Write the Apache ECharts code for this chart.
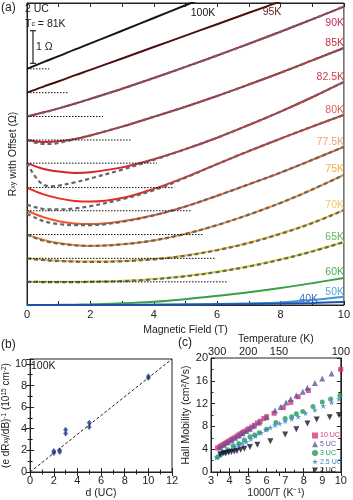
<!DOCTYPE html>
<html><head><meta charset="utf-8">
<script src="https://cdn.jsdelivr.net/npm/echarts@6/dist/echarts.min.js"></script>
<style>html,body{margin:0;padding:0;background:#fff}#c{width:353px;height:500px}</style>
</head><body><div id="c"></div>
<script>
const FONT = "'Liberation Sans', Arial, sans-serif";
// ---------- panel (a) ----------
const fieldB = [0,0.5,1,1.5,2,3,4,5,6,7,8,9,10];
const fitB = [0,0.25,0.5,0.75,1,1.5,2,3,4,5,6,7,8,9,10];
const r100 = [7.24,7.44,7.63,7.83,8.02,8.41,8.80,9.19,9.58,9.97,10.36,10.75,11.14];
const r95  = [6.51,6.69,6.86,7.04,7.21,7.56,7.91,8.26,8.61,8.96,9.31,9.66,10.01];
const r90  = [5.78,5.90,6.03,6.17,6.32,6.63,6.96,7.30,7.65,8.01,8.38,8.76,9.15];
const r85  = [5.06,5.00,5.02,5.09,5.20,5.47,5.77,6.08,6.41,6.76,7.12,7.50,7.88];
const r82  = [4.35,4.18,4.09,4.05,4.07,4.22,4.47,4.78,5.13,5.52,5.93,6.37,6.84];
const r80  = [3.60,3.40,3.27,3.19,3.17,3.28,3.56,3.92,4.32,4.72,5.10,5.47,5.83];
const r77  = [2.89,2.70,2.57,2.50,2.48,2.57,2.75,3.02,3.35,3.70,4.06,4.45,4.85];
const r75  = [2.16,2.00,1.90,1.84,1.81,1.86,1.98,2.18,2.45,2.77,3.13,3.54,3.99];
const r70  = [1.43,1.39,1.36,1.34,1.33,1.35,1.41,1.52,1.69,1.91,2.19,2.52,2.91];
const r65  = [0.71,0.71,0.71,0.71,0.72,0.74,0.80,0.89,1.02,1.19,1.40,1.65,1.93];
const r60  = [0,0,0.005,0.01,0.02,0.05,0.10,0.18,0.28,0.39,0.52,0.67,0.83];
const r50  = [0,0,0,0,0,0.005,0.01,0.02,0.03,0.05,0.08,0.15,0.25];
const r40  = [0,0,0,0,0,0,0.005,0.01,0.02,0.03,0.045,0.065,0.09];
const fit90 = [5.78,5.84,5.90,5.96,6.03,6.17,6.32,6.63,6.96,7.30,7.65,8.01,8.38,8.76,9.15];
const fit85 = [5.06,4.98,4.94,4.94,4.97,5.08,5.20,5.47,5.77,6.08,6.41,6.76,7.12,7.50,7.88];
const fit82 = [4.35,3.95,3.70,3.64,3.66,3.76,3.88,4.15,4.45,4.78,5.13,5.52,5.93,6.37,6.84];
const fit80 = [3.08,3.00,2.95,2.93,2.93,2.96,3.03,3.24,3.52,3.90,4.32,4.72,5.10,5.47,5.83];
const fit77 = [2.80,2.68,2.58,2.52,2.48,2.45,2.45,2.55,2.75,3.02,3.35,3.70,4.06,4.45,4.85];
const fit75 = [2.16,2.06,1.98,1.92,1.88,1.83,1.81,1.86,1.98,2.18,2.45,2.77,3.13,3.54,3.99];
const fit70 = [1.43,1.40,1.38,1.36,1.35,1.33,1.32,1.34,1.40,1.51,1.68,1.90,2.18,2.51,2.91];
const fit65 = [0.71,0.71,0.70,0.70,0.70,0.70,0.71,0.73,0.79,0.88,1.01,1.18,1.39,1.64,1.93];
const baseOffsets = [7.24,6.51,5.78,5.06,4.35,3.60,2.89,2.16,1.43,0.71];
const baseEnds    = [0.7,1.3,2.4,3.3,4.1,4.65,5.2,5.55,5.95,6.35];
const tempLabels = ['100K','95K','90K','85K','82.5K','80K','77.5K','75K','70K','65K','60K','50K','40K'];
// ---------- panel (b) ----------
const thickUC = [2,2,2.5,2.5,3,3,5,5,10,10];
const invSlope = [1.95,1.75,2.0,1.85,3.9,3.55,4.55,4.15,8.85,8.7];
const invErr = [0.15,0.15,0.12,0.12,0.18,0.18,0.15,0.15,0.12,0.12];
const fitLineB = [[0,0],[12,10.45]];
// ---------- panel (c) ----------
const cNames = ['10 UC','5 UC','3 UC','2.5 UC','2 UC'];
const mob10 = [[3.35,4.2],[3.45,4.4],[3.55,4.6],[3.65,4.8],[3.75,5.0],[3.85,5.2],[3.95,5.4],[4.05,5.6],[4.15,5.8],[4.25,6.0],[4.4,6.3],[4.5,6.5],[4.6,6.7],[4.7,6.9],[4.8,7.1],[4.95,7.4],[5.05,7.6],[5.2,7.9],[5.35,8.2],[5.5,8.6],[5.65,8.9],[5.85,9.4],[6.0,9.7],[6.4,10.3],[6.9,11.3],[7.3,12.2],[7.7,13.2],[8.25,14.3],[10.0,18.0]];
const mob5 = [[3.5,4.4],[3.7,4.8],[3.9,5.2],[4.1,5.6],[4.3,6.0],[4.5,6.4],[4.7,6.8],[4.9,7.2],[5.1,7.6],[5.3,8.1],[5.6,8.7],[6.0,9.6],[6.45,10.8],[6.75,11.4],[7.05,12.2],[7.3,12.8],[7.6,13.4],[7.95,14.1],[8.2,14.8],[8.6,15.6],[9.0,16.4],[9.5,17.3]];
const mob3 = [[3.35,2.6],[3.5,3.0],[3.7,3.4],[3.9,3.9],[4.2,4.6],[4.5,5.0],[4.8,5.6],[5.1,6.2],[5.35,6.5],[5.6,6.9],[6.0,7.5],[6.5,8.7],[7.0,9.4],[7.35,9.7],[7.6,10.2],[7.95,10.6],[8.5,11.5],[9.0,12.3],[9.45,12.8],[9.95,13.4]];
const mob25 = [[3.3,2.6],[3.5,3.0],[3.7,3.3],[3.9,3.6],[4.1,4.0],[4.3,4.4],[4.5,4.7],[4.7,5.0],[4.9,5.3],[5.15,5.8],[5.4,6.3],[5.7,6.9],[5.95,7.4],[6.2,7.8],[6.45,8.2],[6.7,8.5],[7.0,8.9],[7.35,9.3],[7.7,9.7],[8.1,10.3],[8.6,10.9],[9.05,11.6],[9.5,12.2],[9.9,12.8]];
const mob2 = [[3.5,3.1],[3.65,3.3],[3.8,3.3],[3.95,3.4],[4.1,3.5],[4.25,3.6],[4.4,3.7],[4.6,3.9],[4.8,4.1],[5.1,4.4],[5.5,4.8],[6.2,5.4],[7.0,6.6],[7.6,7.5],[8.2,8.5],[8.7,9.2],[9.4,9.6],[9.9,10.0]];
const tempTicks = [300,200,150,100];
const tempMinorTicks = [300,250,200,150,125,100];

const pairs = (xs, ys) => xs.map((x,i)=>[x, ys[i]]);
const solidCurves = [r100,r95,r90,r85,r82,r80,r77,r75,r70,r65,r60,r50,r40];
const solidColors = ['#151515','#4a1010','#b3263a','#c4202f','#d8222c','#e42b24','#ea5a2a','#f08b30','#f5bb2c','#d9d22e','#3a9f48','#3a9ad8','#2050a8'];
const fitCurves = [fit90,fit85,fit82,fit80,fit77,fit75,fit70,fit65];
const labelColors = ['#151515','#6a1c1c','#c23050','#c83040','#d23c4c','#e0605c','#f0a070','#f0b23a','#f0c860','#66b35e','#4fa85a','#55a6da','#3a6cc0'];

const series = [];
solidCurves.forEach((v,i)=>{
  series.push({type:'line', xAxisIndex:0, yAxisIndex:0, data:pairs(fieldB,v), smooth:0.35, symbol:'none',
    lineStyle:{color:solidColors[i], width:2}, silent:true, z:2});
});
fitCurves.forEach((v)=>{
  series.push({type:'line', xAxisIndex:0, yAxisIndex:0, data:pairs(fitB,v), smooth:0.35, symbol:'none',
    lineStyle:{color:'#666', width:2.2, type:[4,3]}, silent:true, z:3});
});
baseOffsets.forEach((o,i)=>{
  series.push({type:'line', xAxisIndex:0, yAxisIndex:0, data:[[0,o],[baseEnds[i],o]], symbol:'none',
    lineStyle:{color:'#111', width:1, type:[1.5,1.5]}, silent:true, z:4});
});
// panel b
series.push({type:'line', xAxisIndex:2, yAxisIndex:1, data:fitLineB, symbol:'none',
  lineStyle:{color:'#222', width:1, type:[3,2]}, silent:true});
series.push({type:'custom', xAxisIndex:2, yAxisIndex:1, data:thickUC.map((d,i)=>[d, invSlope[i]-invErr[i], invSlope[i]+invErr[i]]),
  renderItem:(p,api)=>{const a=api.coord([api.value(0),api.value(1)]);const b=api.coord([api.value(0),api.value(2)]);
    return {type:'line', shape:{x1:a[0],y1:a[1],x2:b[0],y2:b[1]}, style:{stroke:'#2f4a9a', lineWidth:1.2}};}, silent:true});
series.push({type:'scatter', xAxisIndex:2, yAxisIndex:1, data:pairs(thickUC, invSlope), symbol:'diamond', symbolSize:[5,6],
  itemStyle:{color:'#2f4a9a'}, silent:true});
// panel c
const star = 'path://M5,0 L6.2,3.6 L10,3.6 L6.9,5.8 L8.1,9.5 L5,7.2 L1.9,9.5 L3.1,5.8 L0,3.6 L3.8,3.6 Z';
const downTri = 'path://M0,0 L10,0 L5,9 Z';
const cData = [mob10, mob5, mob3, mob25, mob2];
const cSymbols = ['rect','triangle','circle',star,downTri];
const cSizes = [5,6,5,6,6];
const cColors = ['#d6357a','#5c5a9c','#1f9a5a','#3a84c4','#15152a'];
cData.forEach((d,i)=>{
  series.push({name:cNames[i], type:'scatter', xAxisIndex:4, yAxisIndex:3, data:d, symbol:cSymbols[i], symbolSize:cSizes[i],
    itemStyle:{color:cColors[i]}, silent:true});
});

const axLine = {show:true, lineStyle:{color:'#222', width:1}};
const tick = {show:true, inside:true, length:4, lineStyle:{color:'#222'}};
const lab = {fontSize:11, color:'#222', fontFamily:FONT};
const nameStyle = {fontSize:10.5, color:'#222', fontFamily:FONT};

const option = {
  animation:false,
  textStyle:{fontFamily:FONT},
  grid:[
    {left:23, right:7, top:3, bottom:195, show:true, borderColor:'#222', borderWidth:1},
    {left:26, right:181, top:359, bottom:28, show:true, borderColor:'#222', borderWidth:1},
    {left:211, right:6, top:358, bottom:28, show:true, borderColor:'#222', borderWidth:1}
  ],
  xAxis:[
    {gridIndex:0, type:'value', min:0, max:10, interval:1, position:'bottom', axisLine:axLine, axisTick:tick,
      axisLabel:Object.assign({margin:4, formatter:v=> (v%2===0? String(v):'')}, lab), splitLine:{show:false},
      name:'Magnetic Field (T)', nameLocation:'middle', nameGap:17, nameTextStyle:nameStyle},
    {gridIndex:0, type:'value', min:0, max:10, interval:1, position:'top', axisLine:axLine, axisTick:tick,
      axisLabel:{show:false}, splitLine:{show:false}},
    {gridIndex:1, type:'value', min:0, max:12, interval:2, position:'bottom', axisLine:axLine, axisTick:tick,
      minorTick:{show:true, splitNumber:2, length:2.5}, axisLabel:Object.assign({margin:3}, lab), splitLine:{show:false},
      name:'d (UC)', nameLocation:'middle', nameGap:16, nameTextStyle:nameStyle},
    {gridIndex:1, type:'value', min:0, max:12, interval:2, position:'top', axisLine:axLine, axisTick:tick,
      minorTick:{show:true, splitNumber:2, length:2.5}, axisLabel:{show:false}, splitLine:{show:false}},
    {gridIndex:2, type:'value', min:3, max:10, interval:1, position:'bottom', axisLine:axLine, axisTick:tick,
      minorTick:{show:true, splitNumber:2, length:2.5}, axisLabel:Object.assign({margin:3}, lab), splitLine:{show:false},
      name:'1000/T (K\u207B\u00B9)', nameLocation:'middle', nameGap:16, nameTextStyle:nameStyle},
    {gridIndex:2, type:'value', min:3, max:10, position:'top', axisLine:axLine,
      axisTick:Object.assign({customValues:tempMinorTicks.map(t=>1000/t)}, tick),
      axisLabel:Object.assign({margin:1, customValues:tempTicks.map(t=>1000/t), formatter:v=>String(Math.round(1000/v))}, lab),
      splitLine:{show:false},
      name:'Temperature (K)', nameLocation:'middle', nameGap:12, nameTextStyle:nameStyle}
  ],
  yAxis:[
    {gridIndex:0, type:'value', min:0, max:9.26, axisLine:axLine, axisTick:{show:false}, axisLabel:{show:false}, splitLine:{show:false},
      name:'R{s|xy} with Offset (\u03A9)', nameLocation:'middle', nameGap:8,
      nameTextStyle:Object.assign({rich:{s:{fontSize:7, fontFamily:FONT, color:'#222'}}}, nameStyle)},
    {gridIndex:1, type:'value', min:0, max:10.45, interval:2, axisLine:axLine, axisTick:tick,
      minorTick:{show:true, splitNumber:2, length:2.5}, axisLabel:Object.assign({margin:3}, lab), splitLine:{show:false},
      name:'(e dR{s|xy}/dB){p|-1} (10{p|15} cm{p|-2})', nameLocation:'middle', nameGap:13,
      nameTextStyle:Object.assign({rich:{s:{fontSize:6.5,fontFamily:FONT,color:'#222'}, p:{fontSize:6.5,fontFamily:FONT,color:'#222',verticalAlign:'top'}}}, nameStyle, {fontSize:10})},
    {gridIndex:1, type:'value', min:0, max:10.45, interval:2, position:'right', axisLine:axLine, axisTick:tick,
      minorTick:{show:true, splitNumber:2, length:2.5}, axisLabel:{show:false}, splitLine:{show:false}},
    {gridIndex:2, type:'value', min:0, max:20, interval:4, axisLine:axLine, axisTick:tick,
      minorTick:{show:true, splitNumber:2, length:2.5}, axisLabel:Object.assign({margin:3}, lab), splitLine:{show:false},
      name:'Hall Mobility (cm\u00B2/Vs)', nameLocation:'middle', nameGap:17, nameTextStyle:nameStyle},
    {gridIndex:2, type:'value', min:0, max:20, interval:4, position:'right', axisLine:axLine, axisTick:tick,
      minorTick:{show:true, splitNumber:2, length:2.5}, axisLabel:{show:false}, splitLine:{show:false}}
  ],
  legend:{data:cNames.map((n,i)=>({name:n, textStyle:{color:cColors[i]}})), orient:'vertical', left:312, top:432,
    itemWidth:6, itemHeight:6, itemGap:1.7, padding:0, textStyle:{fontSize:7, fontFamily:FONT, lineHeight:6, padding:[0,0,0,-3]}},
  series:series
};
const chart = echarts.init(document.getElementById('c'), null, {renderer:'canvas'});
chart.setOption(option);

// annotations
function T(text, x, y, o){ o=o||{}; return {type:'text', x:x, y:y, z:100, silent:true,
  style:Object.assign({text:text, fill:'#222', fontSize:11, fontFamily:FONT, align:'left', verticalAlign:'middle'}, o)}; }
const g = [];
g.push(T('(a)', 1, 8, {fontSize:12}));
g.push(T('2 UC', 25, 9, {fontSize:10.5}));
g.push(T('T{s|c} = 81K', 25, 24, {fontSize:10.5, rich:{s:{fontSize:7, fontFamily:FONT, fill:'#222'}}}));
g.push(T('1 \u03A9', 36, 47, {fontSize:10.5}));
// scale bar of 1 ohm via the axis scale
const barBottom = 7.41;
const p0 = chart.convertToPixel({gridIndex:0}, [0, barBottom]);
const p1 = chart.convertToPixel({gridIndex:0}, [0, barBottom+1]);
const bx = p0[0]+6;
[[bx,p0[1],bx,p1[1]],[bx-3,p0[1],bx+3,p0[1]],[bx-3,p1[1],bx+3,p1[1]]].forEach(s=>{
  g.push({type:'line', z:100, silent:true, shape:{x1:s[0],y1:s[1],x2:s[2],y2:s[3]}, style:{stroke:'#222', lineWidth:1.2}});
});
const tlPos = [[203,13,'center'],[272,12,'center'],[344,23],[344,43],[344,77],[344,110],[344,142],[344,169],[344,205],[344,237],[344,272],[344,292],[318,299]];
tempLabels.forEach((t,i)=>{ const p=tlPos[i]; g.push(T(t, p[0], p[1], {fill:labelColors[i], fontSize:10.5, align:p[2]||'right'})); });
g.push(T('(b)', 1, 345, {fontSize:12}));
g.push(T('100K', 31, 366, {fontSize:10.5}));
g.push(T('(c)', 178, 343, {fontSize:12}));
chart.setOption({graphic:g});
</script>
</body></html>
